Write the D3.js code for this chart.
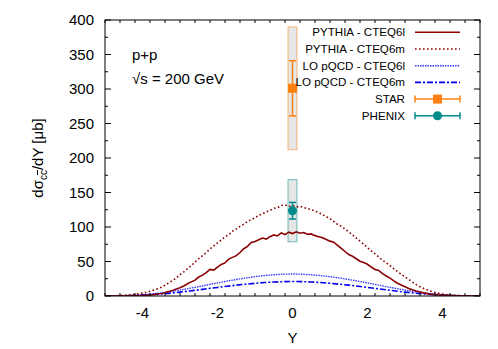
<!DOCTYPE html>
<html>
<head>
<meta charset="utf-8">
<script src="https://cdn.jsdelivr.net/npm/d3@7"></script>
<style>
  body { margin: 0; background: #fff; }
  text { font-family: "Liberation Sans", Arial, sans-serif; fill: #000; }
</style>
</head>
<body>
<div id="chart"></div>
<script>
// rapidity grid for the MC curves (step 0.1) and the smooth LO curves (step 0.25)
var yFine = d3.range(-50, 51).map(function(i) { return i / 10; });
var yCoarse = d3.range(-20, 21).map(function(i) { return i / 4; });

var pythia6l = [0, 0, 0, 0, 0.1, 0.1, 0.2, 0.3, 0.4, 0.5,
  0.7, 1.0, 1.4, 2.0, 2.8, 3.6, 4.8, 6.5, 8.0, 10.2,
  12.0, 14.5, 17.8, 20.5, 23.0, 27.5, 30.2, 34.0, 38.5, 37.5,
  42.0, 45.8, 48.0, 53.5, 56.0, 58.5, 63.0, 68.5, 72.0, 77.5,
  79.0, 81.5, 84.0, 82.5, 86.0, 88.5, 87.0, 91.5, 89.0, 92.5,
  90.5,
  93.0, 91.0, 92.0, 89.5, 90.0, 87.5, 86.0, 84.5, 82.0, 79.5,
  78.0, 73.5, 69.0, 64.5, 60.0, 57.5, 54.0, 50.5, 48.5, 46.0,
  42.0, 38.5, 37.0, 32.5, 29.0, 26.0, 22.0, 18.5, 16.0, 13.5,
  11.0, 9.0, 7.2, 5.8, 4.5, 3.4, 2.6, 1.9, 1.4, 1.0,
  0.7, 0.5, 0.3, 0.2, 0.1, 0.1, 0, 0, 0, 0];

var pythia6m = [0, 0.1, 0.2, 0.4, 0.7, 1.0, 1.5, 2.0, 2.6, 3.3,
  4.2, 5.4, 6.8, 8.5, 10.5, 12.8, 15.5, 19.0, 22.5, 26.0,
  31.0, 35.0, 39.5, 44.0, 49.0, 54.0, 58.5, 63.0, 68.0, 72.5,
  77.0, 81.0, 86.0, 88.5, 94.0, 97.0, 101, 104, 108, 111,
  113, 117, 119, 122, 124, 127, 128, 131, 132, 130,
  131,
  129, 130, 128, 127, 125, 123, 121, 118, 115, 112,
  108, 104, 101, 97, 93, 88.5, 84, 79.5, 75, 70,
  65.5, 61, 56.5, 52, 48, 44, 39.5, 35.5, 31.5, 27.5,
  24, 20, 16.5, 13.5, 11, 8.7, 6.8, 5.2, 3.9, 2.9,
  2.1, 1.5, 1.0, 0.7, 0.4, 0.2, 0.1, 0, 0, 0];

var lo6l = [0, 0.2, 0.5, 1.1, 1.9, 3.1, 4.6, 6.4, 8.6, 11.0,
  13.6, 16.3, 19.0, 21.5, 23.9, 26.1, 28.0, 29.6, 30.8, 31.6,
  31.9,
  31.6, 30.8, 29.6, 28.0, 26.1, 23.9, 21.5, 19.0, 16.3, 13.6,
  11.0, 8.6, 6.4, 4.6, 3.1, 1.9, 1.1, 0.5, 0.2, 0];

var lo6m = [0, 0.1, 0.3, 0.6, 1.2, 2.0, 3.0, 4.2, 5.6, 7.2,
  8.9, 10.7, 12.4, 14.1, 15.7, 17.1, 18.4, 19.5, 20.3, 20.8,
  21.0,
  20.8, 20.3, 19.5, 18.4, 17.1, 15.7, 14.1, 12.4, 10.7, 8.9,
  7.2, 5.6, 4.2, 3.0, 2.0, 1.2, 0.6, 0.3, 0.1, 0];

// data points: value, stat error, systematic error
var starPt = { y: 0, val: 301, stat: 40, sys: 89 };
var phenixPt = { y: 0, val: 123.6, stat: 12, sys: 45 };

var xTicks = [-4, -2, 0, 2, 4];
var yTicks = [0, 50, 100, 150, 200, 250, 300, 350, 400];

var W = 498, H = 349;
var margin = { left: 105, right: 18, top: 20, bottom: 53 };
var width = W - margin.left - margin.right;
var height = H - margin.top - margin.bottom;

var svg = d3.select("#chart").append("svg")
  .attr("width", W).attr("height", H);

var g = svg.append("g")
  .attr("transform", "translate(" + margin.left + "," + margin.top + ")");

var x = d3.scaleLinear().domain([-5, 5]).range([0, width]);
var y = d3.scaleLinear().domain([0, 400]).range([height, 0]);

var darkRed = "#8b0000", blue6l = "#3a3aff", blue6m = "#0000f0";
var orange = "#ff8010", teal = "#008b8b";

// clip for curves
svg.append("defs").append("clipPath").attr("id", "clip")
  .append("rect").attr("width", width).attr("height", height);

// systematic boxes
function sysBox(p, col) {
  g.append("rect")
    .attr("x", x(p.y - 0.12))
    .attr("width", x(0.12) - x(-0.12))
    .attr("y", y(p.val + p.sys))
    .attr("height", y(p.val - p.sys) - y(p.val + p.sys))
    .attr("fill", "#e6e6e6")
    .attr("stroke", col).attr("stroke-opacity", 0.55).attr("stroke-width", 1);
}
sysBox(starPt, orange);
sysBox(phenixPt, teal);

// curves
var line = d3.line()
  .x(function(d) { return x(d[0]); })
  .y(function(d) { return y(d[1]); });

var curves = g.append("g").attr("clip-path", "url(#clip)");

function drawCurve(xs, vals, col, w, dash) {
  curves.append("path")
    .datum(d3.zip(xs, vals))
    .attr("d", line)
    .attr("fill", "none")
    .attr("stroke", col)
    .attr("stroke-width", w)
    .attr("stroke-dasharray", dash);
}
drawCurve(yCoarse, lo6l, blue6l, 1.4, "1.5,1");
drawCurve(yCoarse, lo6m, blue6m, 1.6, "6,2,2,2");
drawCurve(yFine, pythia6m, darkRed, 1.6, "1.6,2.4");
drawCurve(yFine, pythia6l, darkRed, 1.6, null);

// error bars with markers
function errBar(p, col) {
  var cx = x(p.y);
  g.append("line").attr("x1", cx).attr("x2", cx)
    .attr("y1", y(p.val + p.stat)).attr("y2", y(p.val - p.stat))
    .attr("stroke", col).attr("stroke-width", 1.5);
  [p.val + p.stat, p.val - p.stat].forEach(function(v) {
    g.append("line").attr("x1", cx - 3.5).attr("x2", cx + 3.5)
      .attr("y1", y(v)).attr("y2", y(v))
      .attr("stroke", col).attr("stroke-width", 1.5);
  });
}
errBar(starPt, orange);
errBar(phenixPt, teal);
g.append("rect")
  .attr("x", x(starPt.y) - 4.5).attr("y", y(starPt.val) - 4.5)
  .attr("width", 9).attr("height", 9).attr("fill", orange);
g.append("circle")
  .attr("cx", x(phenixPt.y)).attr("cy", y(phenixPt.val)).attr("r", 4.5)
  .attr("fill", teal);

// axes (ticks inward, mirrored)
var xMinor = d3.range(-5, 5.001, 0.4).map(function(v) { return Math.round(v * 10) / 10; });
var yMinor = d3.range(0, 401, 25);

function tickMarks(sel, orient) {
  var minor = (orient === "x") ? xMinor : yMinor;
  var major = (orient === "x") ? xTicks : yTicks;
  minor.forEach(function(v) {
    var isMajor = major.indexOf(v) >= 0;
    var len = isMajor ? 6 : 3;
    if (orient === "x") {
      sel.append("line").attr("x1", x(v)).attr("x2", x(v))
        .attr("y1", height).attr("y2", height - len);
      sel.append("line").attr("x1", x(v)).attr("x2", x(v))
        .attr("y1", 0).attr("y2", len);
    } else {
      sel.append("line").attr("y1", y(v)).attr("y2", y(v))
        .attr("x1", 0).attr("x2", len);
      sel.append("line").attr("y1", y(v)).attr("y2", y(v))
        .attr("x1", width).attr("x2", width - len);
    }
  });
}
var tg = g.append("g").attr("stroke", "#000").attr("stroke-width", 1);
tickMarks(tg, "x");
tickMarks(tg, "y");

g.append("rect").attr("width", width).attr("height", height)
  .attr("fill", "none").attr("stroke", "#000").attr("stroke-width", 1);

g.selectAll("text.xt").data(xTicks).enter().append("text")
  .attr("class", "xt")
  .attr("x", function(d) { return x(d); })
  .attr("y", height + 22)
  .attr("text-anchor", "middle")
  .style("font-size", "15px")
  .text(function(d) { return d; });

g.selectAll("text.yt").data(yTicks).enter().append("text")
  .attr("class", "yt")
  .attr("x", -11)
  .attr("y", function(d) { return y(d) + 5; })
  .attr("text-anchor", "end")
  .style("font-size", "15px")
  .text(function(d) { return d; });

// axis labels
g.append("text")
  .attr("x", x(0)).attr("y", height + 47)
  .attr("text-anchor", "middle")
  .style("font-size", "15px")
  .text("Y");

var yl = svg.append("text")
  .attr("transform", "translate(43," + (margin.top + height / 2) + ") rotate(-90)")
  .attr("text-anchor", "middle")
  .style("font-size", "15px");
yl.append("tspan").text("dσ");
yl.append("tspan").attr("dy", 4).style("font-size", "10px").text("c");
yl.append("tspan").style("font-size", "10px")
  .style("text-decoration", "overline").text("c");
yl.append("tspan").attr("dy", -4).text("/dY [μb]");

// annotation
g.append("text").attr("x", 27).attr("y", 40).style("font-size", "15px").text("p+p");
g.append("text").attr("x", 27).attr("y", 64).style("font-size", "15px").text("√s = 200 GeV");

// legend
var legendItems = [
  { label: "PYTHIA - CTEQ6l", col: darkRed, w: 1.6, dash: null },
  { label: "PYTHIA - CTEQ6m", col: darkRed, w: 1.6, dash: "1.6,2.4" },
  { label: "LO pQCD - CTEQ6l", col: blue6l, w: 1.4, dash: "1.5,1" },
  { label: "LO pQCD - CTEQ6m", col: blue6m, w: 1.6, dash: "6,2,2,2" },
  { label: "STAR", col: orange, w: 1.5, dash: null, mark: "square" },
  { label: "PHENIX", col: teal, w: 1.5, dash: null, mark: "circle" }
];
var lx0 = 415 - margin.left, lx1 = 460 - margin.left, ltx = 405 - margin.left;
legendItems.forEach(function(it, i) {
  var ly = 32.3 + i * 16.7 - margin.top;
  var lg = g.append("g");
  lg.append("text").attr("x", ltx).attr("y", ly + 4)
    .attr("text-anchor", "end").style("font-size", "11.6px").text(it.label);
  lg.append("line").attr("x1", lx0).attr("x2", lx1).attr("y1", ly).attr("y2", ly)
    .attr("stroke", it.col).attr("stroke-width", it.w)
    .attr("stroke-dasharray", it.dash);
  if (it.mark) {
    [lx0, lx1].forEach(function(ex) {
      lg.append("line").attr("x1", ex).attr("x2", ex)
        .attr("y1", ly - 3.5).attr("y2", ly + 3.5)
        .attr("stroke", it.col).attr("stroke-width", 1.5);
    });
    var mx = (lx0 + lx1) / 2;
    if (it.mark === "square") {
      lg.append("rect").attr("x", mx - 4.5).attr("y", ly - 4.5)
        .attr("width", 9).attr("height", 9).attr("fill", it.col);
    } else {
      lg.append("circle").attr("cx", mx).attr("cy", ly).attr("r", 4.5)
        .attr("fill", it.col);
    }
  }
});
</script>
</body>
</html>
